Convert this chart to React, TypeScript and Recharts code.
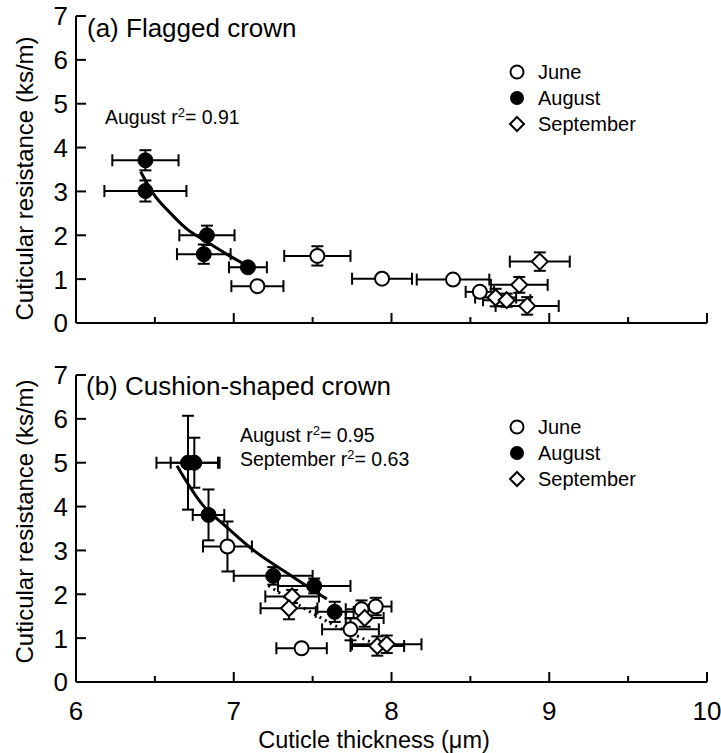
import React from 'react';
import { ScatterChart, Scatter, XAxis, YAxis, ErrorBar, Customized, Label } from 'recharts';

// ---------- data ----------
const xTicks = [6, 6.5, 7, 7.5, 8, 8.5, 9, 9.5, 10];
const yTicks = [0, 1, 2, 3, 4, 5, 6, 7];
const legendLabels = ['June', 'August', 'September'];

// (a) Flagged crown
const juneA = [
  { x: 7.15, y: 0.84, ex: 0.165, ey: 0.04 },
  { x: 7.53, y: 1.53, ex: 0.21, ey: 0.22 },
  { x: 7.94, y: 1.01, ex: 0.19, ey: 0.04 },
  { x: 8.39, y: 0.99, ex: 0.23, ey: 0.04 },
  { x: 8.56, y: 0.71, ex: 0.09, ey: 0.1 },
];
const augA = [
  { x: 6.44, y: 3.71, ex: 0.21, ey: 0.23 },
  { x: 6.44, y: 3.01, ex: 0.26, ey: 0.24 },
  { x: 6.83, y: 2.0, ex: 0.175, ey: 0.22 },
  { x: 6.81, y: 1.57, ex: 0.17, ey: 0.22 },
  { x: 7.09, y: 1.27, ex: 0.12, ey: 0.05 },
];
const sepA = [
  { x: 8.94, y: 1.4, ex: 0.19, ey: 0.21 },
  { x: 8.81, y: 0.87, ex: 0.18, ey: 0.18 },
  { x: 8.66, y: 0.58, ex: 0.13, ey: 0.2 },
  { x: 8.73, y: 0.52, ex: 0.15, ey: 0.15 },
  { x: 8.86, y: 0.39, ex: 0.2, ey: 0.2 },
];
const fitAugA = [
  { x: 6.41, y: 3.45 },
  { x: 6.49, y: 2.95 },
  { x: 6.6, y: 2.5 },
  { x: 6.7, y: 2.15 },
  { x: 6.83, y: 1.85 },
  { x: 6.96, y: 1.56 },
  { x: 7.09, y: 1.3 },
];

// (b) Cushion-shaped crown
const juneB = [
  { x: 6.96, y: 3.09, ex: 0.155, ey: 0.57 },
  { x: 7.43, y: 0.77, ex: 0.16, ey: 0.04 },
  { x: 7.74, y: 1.2, ex: 0.18, ey: 0.25 },
  { x: 7.81, y: 1.66, ex: 0.1, ey: 0.2 },
  { x: 7.9, y: 1.72, ex: 0.1, ey: 0.2 },
];
const augB = [
  { x: 6.71, y: 5.0, ex: 0.2, ey: 1.07 },
  { x: 6.75, y: 5.0, ex: 0.15, ey: 0.57 },
  { x: 6.84, y: 3.81, ex: 0.1, ey: 0.58 },
  { x: 7.25, y: 2.42, ex: 0.25, ey: 0.2 },
  { x: 7.51, y: 2.19, ex: 0.23, ey: 0.17 },
  { x: 7.64, y: 1.6, ex: 0.12, ey: 0.23 },
];
const sepB = [
  { x: 7.37, y: 1.95, ex: 0.17, ey: 0.15 },
  { x: 7.35, y: 1.68, ex: 0.18, ey: 0.25 },
  { x: 7.83, y: 1.46, ex: 0.12, ey: 0.2 },
  { x: 7.91, y: 0.82, ex: 0.17, ey: 0.22 },
  { x: 7.97, y: 0.86, ex: 0.22, ey: 0.2 },
];
const fitAugB = [
  { x: 6.64, y: 4.93 },
  { x: 6.8, y: 4.05 },
  { x: 6.95, y: 3.55 },
  { x: 7.12, y: 3.02 },
  { x: 7.34, y: 2.48 },
  { x: 7.59, y: 1.89 },
];
const fitSepB = [
  { x: 7.22, y: 2.2 },
  { x: 7.36, y: 1.87 },
  { x: 7.5, y: 1.57 },
  { x: 7.65, y: 1.27 },
  { x: 7.8, y: 1.02 },
  { x: 7.93, y: 0.82 },
];

// ---------- styles ----------
const FONT = '"Liberation Sans", Arial, Helvetica, sans-serif';
const SW = 2;

const OpenCircle = (p: any) => (
  <circle cx={p.cx} cy={p.cy} r={7} fill="#fff" stroke="#000" strokeWidth={SW} />
);
const FilledCircle = (p: any) => (
  <circle cx={p.cx} cy={p.cy} r={7.5} fill="#000" stroke="#000" strokeWidth={1} />
);
const Diamond = (p: any) => {
  const s = 8;
  return (
    <polygon
      points={`${p.cx},${p.cy - s} ${p.cx + s},${p.cy} ${p.cx},${p.cy + s} ${p.cx - s},${p.cy}`}
      fill="#fff"
      stroke="#000"
      strokeWidth={SW}
    />
  );
};
const NoShape = () => <g />;

const makeXTick = (showLabel: boolean) => (props: any) => {
  const { x, y, payload } = props;
  const v = payload.value;
  const major = Number.isInteger(v);
  return (
    <g>
      <line x1={x} y1={y} x2={x} y2={y - (major ? 10 : 6)} stroke="#000" strokeWidth={SW} />
      {showLabel && major && (
        <text x={x} y={y + 38} textAnchor="middle" fontSize={26} fontFamily={FONT} fill="#000">
          {v}
        </text>
      )}
    </g>
  );
};

const YTick = (props: any) => {
  const { x, y, payload } = props;
  return (
    <g>
      <line x1={x} y1={y} x2={x + 10} y2={y} stroke="#000" strokeWidth={SW} />
      <text x={x - 8} y={y} dy="0.36em" textAnchor="end" fontSize={26} fontFamily={FONT} fill="#000">
        {payload.value}
      </text>
    </g>
  );
};

const yTitle = (dy: number) => (props: any) => {
  const vb = props.viewBox;
  const cx = 24;
  const cy = vb.y + vb.height / 2 + dy;
  return (
    <text
      transform={`translate(${cx},${cy}) rotate(-90)`}
      textAnchor="middle"
      dominantBaseline="central"
      fontSize={24}
      fontFamily={FONT}
      fill="#000"
    >
      Cuticular resistance (ks/m)
    </text>
  );
};

const LegendBlock = ({ x, y }: { x: number; y: number }) => {
  const gap = 26;
  const shapes = [
    <circle key="j" cx={x} cy={y} r={6.5} fill="#fff" stroke="#000" strokeWidth={SW} />,
    <circle key="a" cx={x} cy={y + gap} r={7} fill="#000" />,
    <polygon
      key="s"
      points={`${x},${y + 2 * gap - 7} ${x + 7},${y + 2 * gap} ${x},${y + 2 * gap + 7} ${x - 7},${y + 2 * gap}`}
      fill="#fff"
      stroke="#000"
      strokeWidth={SW}
    />,
  ];
  return (
    <g>
      {shapes}
      {legendLabels.map((l, i) => (
        <text
          key={l}
          x={x + 21}
          y={y + i * gap}
          dy="0.36em"
          fontSize={20}
          fontFamily={FONT}
          fill="#000"
        >
          {l}
        </text>
      ))}
    </g>
  );
};

const R2 = ({ x, y, label, value }: { x: number; y: number; label: string; value: string }) => (
  <text x={x} y={y} fontSize={19.5} fontFamily={FONT} fill="#000">
    {label} r
    <tspan dy={-7} fontSize={13}>2</tspan>
    <tspan dy={7}>= {value}</tspan>
  </text>
);

const Title = ({ x, y, text }: { x: number; y: number; text: string }) => (
  <text x={x} y={y} fontSize={26} fontFamily={FONT} fill="#000">
    {text}
  </text>
);

const series = (data: any[], shape: any, key: string) => (
  <Scatter key={key} data={data} shape={shape} isAnimationActive={false}>
    <ErrorBar dataKey="ex" direction="x" width={6} stroke="#000" strokeWidth={SW} />
    <ErrorBar dataKey="ey" direction="y" width={6} stroke="#000" strokeWidth={SW} />
  </Scatter>
);

export default function App() {
  return (
    <div style={{ position: 'absolute', left: 0, top: 0, width: 721, height: 753, background: '#fff', fontFamily: FONT }}>
      {/* Panel (a) */}
      <div style={{ position: 'absolute', left: 0, top: 0 }}>
        <ScatterChart width={721} height={340} margin={{ top: 16, right: 14, bottom: 7, left: 16 }}>
          <XAxis
            type="number"
            dataKey="x"
            domain={[6, 10]}
            ticks={xTicks}
            interval={0}
            tickSize={0}
            tickMargin={0}
            tickLine={false}
            tick={makeXTick(false)}
            height={10}
            axisLine={{ stroke: '#000', strokeWidth: SW }}
            allowDataOverflow
          />
          <YAxis
            type="number"
            dataKey="y"
            domain={[0, 7]}
            ticks={yTicks}
            interval={0}
            tickSize={0}
            tickMargin={0}
            tickLine={false}
            tick={YTick}
            width={60}
            axisLine={{ stroke: '#000', strokeWidth: SW }}
            allowDataOverflow
          >
            <Label content={yTitle(9)} />
          </YAxis>
          <Scatter
            data={fitAugA}
            shape={NoShape}
            line={{ stroke: '#000', strokeWidth: 3 }}
            lineJointType="monotoneX"
            isAnimationActive={false}
          />
          {series(juneA, OpenCircle, 'ja')}
          {series(sepA, Diamond, 'sa')}
          {series(augA, FilledCircle, 'aa')}
          <Customized
            component={() => (
              <g>
                <Title x={87} y={37} text="(a) Flagged crown" />
                <R2 x={105} y={124} label="August" value="0.91" />
                <LegendBlock x={517} y={72} />
              </g>
            )}
          />
        </ScatterChart>
      </div>
      {/* Panel (b) */}
      <div style={{ position: 'absolute', left: 0, top: 340 }}>
        <ScatterChart width={721} height={413} margin={{ top: 35, right: 14, bottom: 0, left: 16 }}>
          <XAxis
            type="number"
            dataKey="x"
            domain={[6, 10]}
            ticks={xTicks}
            interval={0}
            tickSize={0}
            tickMargin={0}
            tickLine={false}
            tick={makeXTick(true)}
            height={71}
            axisLine={{ stroke: '#000', strokeWidth: SW }}
            allowDataOverflow
          >
            <Label
              content={() => (
                <text
                  x={374}
                  y={408}
                  textAnchor="middle"
                  fontSize={23.5}
                  fontFamily={FONT}
                  fill="#000"
                >
                  Cuticle thickness (μm)
                </text>
              )}
            />
          </XAxis>
          <YAxis
            type="number"
            dataKey="y"
            domain={[0, 7]}
            ticks={yTicks}
            interval={0}
            tickSize={0}
            tickMargin={0}
            tickLine={false}
            tick={YTick}
            width={60}
            axisLine={{ stroke: '#000', strokeWidth: SW }}
            allowDataOverflow
          >
            <Label content={yTitle(-7)} />
          </YAxis>
          <Scatter
            data={fitAugB}
            shape={NoShape}
            line={{ stroke: '#000', strokeWidth: 3 }}
            lineJointType="monotoneX"
            isAnimationActive={false}
          />
          <Scatter
            data={fitSepB}
            shape={NoShape}
            line={{ stroke: '#000', strokeWidth: 3, strokeDasharray: '2 4' }}
            lineJointType="monotoneX"
            isAnimationActive={false}
          />
          {series(juneB, OpenCircle, 'jb')}
          {series(sepB, Diamond, 'sb')}
          {series(augB, FilledCircle, 'ab')}
          <Customized
            component={() => (
              <g>
                <Title x={86} y={55} text="(b) Cushion-shaped crown" />
                <R2 x={240} y={102} label="August" value="0.95" />
                <R2 x={240} y={126} label="September" value="0.63" />
                <LegendBlock x={517} y={87} />
              </g>
            )}
          />
        </ScatterChart>
      </div>
    </div>
  );
}
